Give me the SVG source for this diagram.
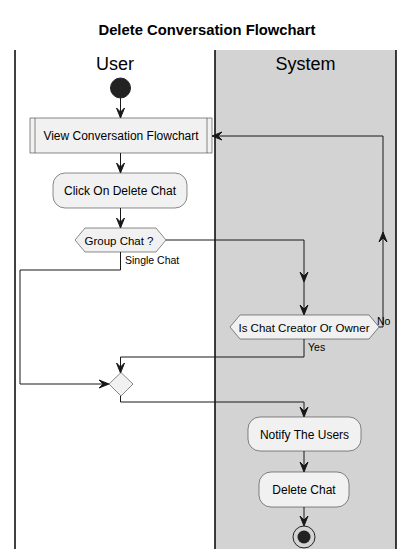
<svg xmlns="http://www.w3.org/2000/svg" width="414" height="559" viewBox="0 0 414 559">
<style>
text{font-family:"Liberation Sans",Arial,sans-serif;fill:#000}
.t{font-size:12px;text-anchor:middle}
.h{font-size:11.5px;text-anchor:middle}
.lbl{font-size:10.5px}
.box{fill:#F1F1F1;stroke:#181818;stroke-width:0.5}
.lane{stroke:#000;stroke-width:1.5}
.ln{fill:none;stroke:#181818;stroke-width:1}
.ah{fill:#181818;stroke:#181818;stroke-width:1}
</style>
<rect width="414" height="559" fill="#fff"/>
<text x="207" y="35" font-size="14.8" font-weight="bold" text-anchor="middle">Delete Conversation Flowchart</text>
<g id="lanes">
<rect x="215" y="50" width="181" height="499" fill="#D3D3D3"/>
<line class="lane" x1="15" y1="50" x2="15" y2="549"/>
<line class="lane" x1="215" y1="50" x2="215" y2="549"/>
<line class="lane" x1="396" y1="50" x2="396" y2="549"/>
<text x="115" y="70" font-size="18" text-anchor="middle">User</text>
<text x="305.5" y="70" font-size="18" text-anchor="middle">System</text>
</g>
<g id="connectors">
<line class="ln" x1="120.5" y1="98" x2="120.5" y2="117"/>
<polygon class="ah" points="116.5,108 120.5,118 124.5,108 120.5,112"/>
<line class="ln" x1="120.5" y1="153" x2="120.5" y2="172"/>
<polygon class="ah" points="116.5,163 120.5,173 124.5,163 120.5,167"/>
<line class="ln" x1="120.5" y1="208" x2="120.5" y2="227"/>
<polygon class="ah" points="116.5,218 120.5,228 124.5,218 120.5,222"/>
<polyline class="ln" points="120.5,252 120.5,270 20,270 20,384 108,384"/>
<polygon class="ah" points="99,380 109,384 99,388 103,384"/>
<polyline class="ln" points="166,240 304,240 304,314"/>
<polygon class="ah" points="300,272 304,282 308,272 304,276"/>
<polygon class="ah" points="300,305 304,315 308,305 304,309"/>
<polyline class="ln" points="379,327 383,327 383,136 213,136"/>
<polygon class="ah" points="379,242 383,232 387,242 383,238"/>
<polygon class="ah" points="222,132 212,136 222,140 218,136"/>
<polyline class="ln" points="304,339 304,357 120.5,357 120.5,371"/>
<polygon class="ah" points="116.5,363 120.5,373 124.5,363 120.5,367"/>
<polyline class="ln" points="120.5,396 120.5,402 304,402 304,416"/>
<polygon class="ah" points="300,407 304,417 308,407 304,411"/>
<line class="ln" x1="304" y1="451" x2="304" y2="471"/>
<polygon class="ah" points="300,462 304,472 308,462 304,466"/>
<line class="ln" x1="304" y1="507" x2="304" y2="525"/>
<polygon class="ah" points="300,516 304,526 308,516 304,520"/>
</g>
<g id="start"><circle cx="120.5" cy="88" r="10" fill="#222" stroke="#222"/></g>
<g id="view">
<rect class="box" x="30" y="118" width="182" height="35"/>
<line class="box" x1="35" y1="118" x2="35" y2="153"/>
<line class="box" x1="207" y1="118" x2="207" y2="153"/>
<text class="t" x="121" y="140">View Conversation Flowchart</text>
</g>
<g id="click">
<rect class="box" x="53" y="173" width="134" height="35" rx="12"/>
<text class="t" x="120" y="195">Click On Delete Chat</text>
</g>
<g id="group">
<polygon class="box" points="75,240 85,228 156,228 166,240 156,252 85,252"/>
<text class="h" x="119" y="244.5">Group Chat ?</text>
<text class="lbl" x="125" y="263.5">Single Chat</text>
</g>
<g id="creator">
<polygon class="box" points="230,327 240,315 369,315 379,327 369,339 240,339"/>
<text class="h" x="304" y="331.5">Is Chat Creator Or Owner</text>
<text class="lbl" x="377" y="325">No</text>
<text class="lbl" x="308" y="351">Yes</text>
</g>
<g id="merge"><polygon class="box" points="121,372.5 133,384 121,396 109,384"/></g>
<g id="notify">
<rect class="box" x="248" y="417" width="113" height="34" rx="12"/>
<text class="t" x="304.5" y="438.5">Notify The Users</text>
</g>
<g id="delete">
<rect class="box" x="259" y="472" width="90" height="35" rx="12"/>
<text class="t" x="304" y="494">Delete Chat</text>
</g>
<g id="end">
<circle cx="304" cy="537" r="11" fill="none" stroke="#222" stroke-width="1"/>
<circle cx="304" cy="537" r="6.5" fill="#222"/>
</g>
</svg>
